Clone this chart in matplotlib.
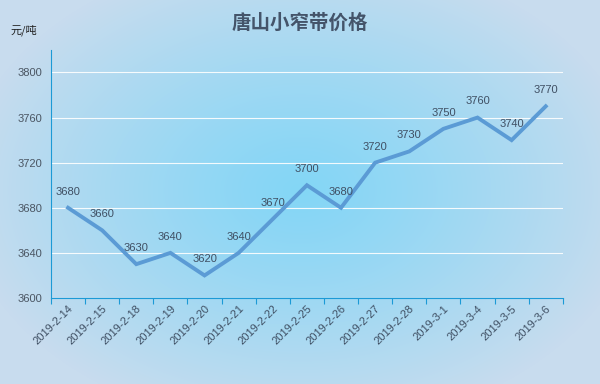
import numpy as np
import matplotlib
matplotlib.use('Agg')
import matplotlib.pyplot as plt

plt.rcParams['font.family'] = ['Noto Sans CJK SC', 'DejaVu Sans']

# Datos
fechas = ['2019-2-14', '2019-2-15', '2019-2-18', '2019-2-19', '2019-2-20',
          '2019-2-21', '2019-2-22', '2019-2-25', '2019-2-26', '2019-2-27',
          '2019-2-28', '2019-3-1', '2019-3-4', '2019-3-5', '2019-3-6']
precios = [3680, 3660, 3630, 3640, 3620, 3640, 3670, 3700, 3680, 3720,
           3730, 3750, 3760, 3740, 3770]
y_ticks = [3600, 3640, 3680, 3720, 3760, 3800]

fig = plt.figure(figsize=(6, 3.84), dpi=100)

# Fondo con degradado radial
bg = fig.add_axes([0, 0, 1, 1], zorder=0)
yy, xx = np.mgrid[0:384, 0:600]
r = np.sqrt(((xx - 300) / 340.0) ** 2 + ((yy - 190) / 240.0) ** 2)
r = np.clip(r, 0, 1)
c_in = np.array([0x84, 0xd6, 0xf6]) / 255.0
c_out = np.array([0xc8, 0xdc, 0xee]) / 255.0
t = r[..., None] ** 1.2
img = c_in * (1 - t) + c_out * t
bg.imshow(img, aspect='auto', extent=[0, 1, 0, 1])
bg.axis('off')

ax = fig.add_axes([0.085, 0.224, 0.853, 0.646], zorder=1)
ax.patch.set_alpha(0)

x = np.arange(len(fechas))
ax.plot(x, precios, color='#5b9bd5', linewidth=2.8, solid_joinstyle='miter')

lab_font = ['Liberation Sans', 'DejaVu Sans']
for xi, v in zip(x, precios):
    ax.annotate(str(v), (xi, v), xytext=(0, 8), textcoords='offset points',
                ha='center', va='bottom', fontsize=8, color='#3f4f63',
                family=lab_font)

ax.set_xlim(-0.5, len(fechas) - 0.5)
ax.set_ylim(3600, 3820)
ax.set_yticks(y_ticks)
ax.set_yticklabels([str(v) for v in y_ticks], fontsize=8, color='#4a5562',
                   family=lab_font)
ax.set_xticks(np.arange(-0.5, len(fechas), 1.0))
ax.set_xticklabels([])
ax.set_xticks(x, minor=True)
ax.set_xticklabels(fechas, minor=True, rotation=45, ha='right',
                   rotation_mode='anchor', fontsize=8, color='#3f4f63',
                   family=lab_font)
ax.tick_params(axis='x', which='major', length=4, color='#1c9ad6', direction='out')
ax.tick_params(axis='x', which='minor', length=0, pad=4)
ax.tick_params(axis='y', length=0, pad=6)

ax.grid(axis='y', color='white', linewidth=0.8, alpha=0.9)
ax.set_axisbelow(True)
for s in ['top', 'right']:
    ax.spines[s].set_visible(False)
ax.spines['left'].set_color('#1c9ad6')
ax.spines['bottom'].set_color('#1c9ad6')

fig.text(0.5, 0.94, '唐山小窄带价格', ha='center', va='center', fontsize=14,
         fontweight='bold', color='#44546a')
fig.text(0.018, 0.92, '元/吨', ha='left', va='center', fontsize=8, color='#202020')

fig.savefig('out.png', dpi=100)
